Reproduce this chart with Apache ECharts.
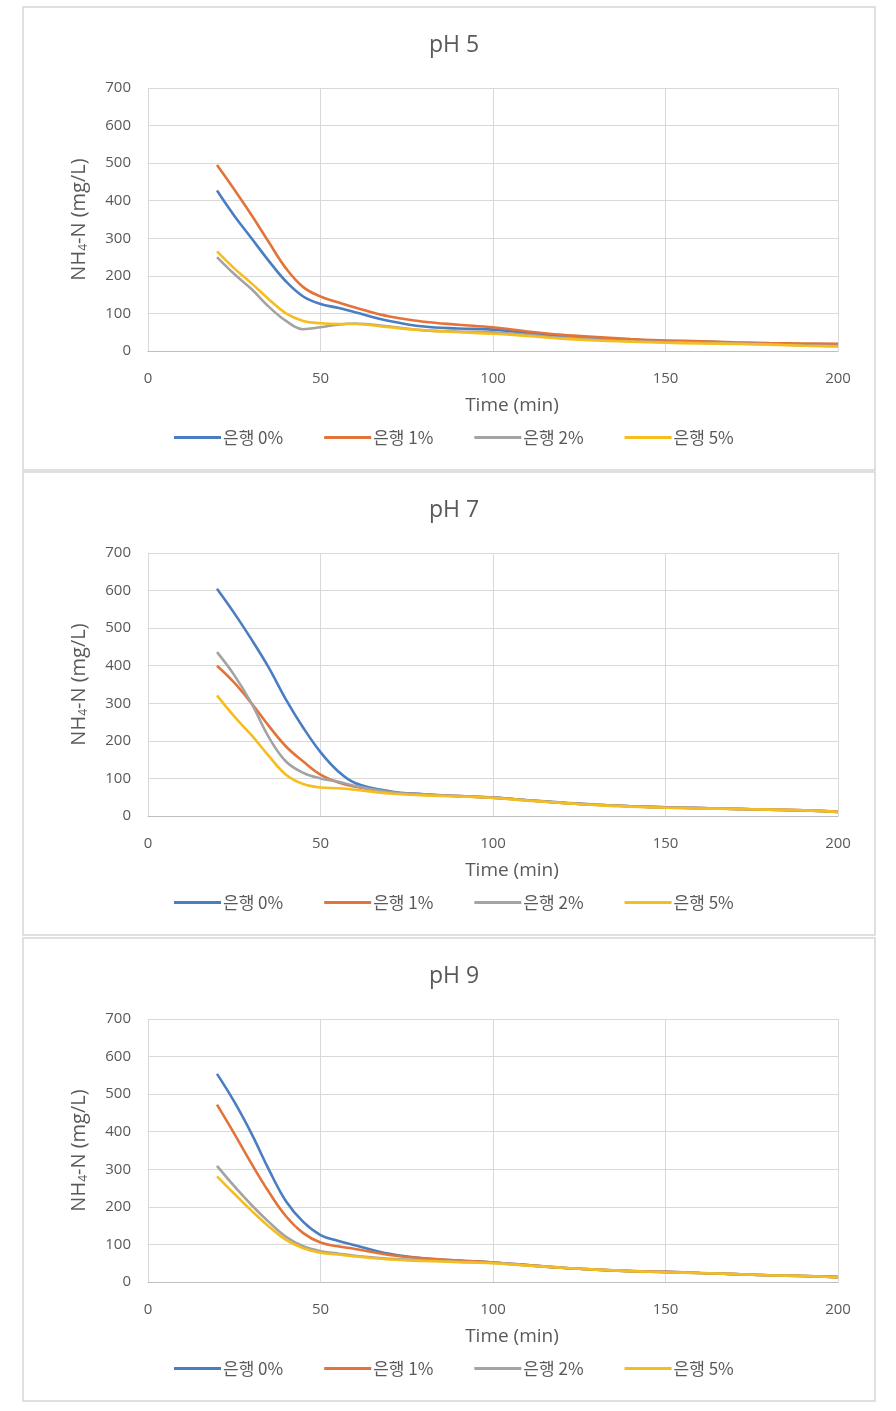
<!DOCTYPE html>
<html>
<head>
<meta charset="utf-8">
<script src="https://cdn.jsdelivr.net/npm/echarts@6/dist/echarts.min.js"></script>
<style>
html,body{margin:0;padding:0;background:#fff;}
#c{width:896px;height:1411px;}
</style>
</head>
<body>
<div id="c"></div>
<script>
// ---- data ----
const time = [20,25,30,35,40,45,50,55,60,70,80,90,100,110,120,130,140,150,160,170,180,190,200];
const seriesNames = ['은행 0%','은행 1%','은행 2%','은행 5%'];
const panelTitles = ['pH 5','pH 7','pH 9'];
const xTicks = [0,50,100,150,200];
const yTicks = [0,100,200,300,400,500,600,700];

const pH5_0 = [427,360,300,240,185,145,125,115,103,80,65,60,57,48,40,35,30,27,25,22,20,18,17];
const pH5_1 = [495,430,362,290,220,170,145,130,116,92,78,70,63,52,43,37,32,28,26,23,21,20,19];
const pH5_2 = [250,205,165,118,80,58,63,70,73,65,55,52,50,43,35,30,26,24,22,20,18,15,13];
const pH5_5 = [265,220,180,138,100,80,74,72,72,63,55,50,46,40,33,28,25,22,20,19,17,14,12];

const pH7_0 = [605,540,470,395,310,235,170,120,88,66,58,53,49,42,36,30,26,23,21,19,17,15,12];
const pH7_1 = [400,355,300,240,185,145,110,90,78,63,57,53,49,42,35,30,26,23,21,19,17,15,11];
const pH7_2 = [436,375,300,210,145,115,100,92,80,64,57,53,49,42,35,30,26,23,21,19,17,15,11];
const pH7_5 = [321,265,215,160,110,85,76,74,70,60,55,52,48,41,35,29,25,22,20,19,17,15,11];

const pH9_0 = [554,480,395,300,215,160,125,110,98,75,63,57,52,45,38,33,29,27,24,21,18,16,13];
const pH9_1 = [472,395,315,240,175,130,105,95,88,72,63,57,52,45,38,33,29,27,24,21,18,16,13];
const pH9_2 = [309,255,205,160,120,95,82,76,70,62,58,54,51,44,38,33,29,26,24,21,18,16,13];
const pH9_5 = [281,235,190,148,112,90,78,73,68,60,56,53,50,44,38,33,29,26,24,21,18,16,12];

const panelData = [
  [pH5_0,pH5_1,pH5_2,pH5_5],
  [pH7_0,pH7_1,pH7_2,pH7_5],
  [pH9_0,pH9_1,pH9_2,pH9_5]
];

// ---- styling / layout ----
const colors = ['#4A7EC2','#E2743A','#A3A3A3','#F5BE1E'];
const txt = '#595959';
const font = '"Open Sans","Liberation Sans",Arial,sans-serif';
const kfont = '"Noto Sans CJK KR","Open Sans",sans-serif';
const offsets = [0,465,931];

const chart = echarts.init(document.getElementById('c'));
const option = {
  backgroundColor:'#fff',
  animation:false,
  title:[], legend:[], grid:[], xAxis:[], yAxis:[], series:[],
  graphic:[]
};

offsets.forEach((off,p)=>{
  option.graphic.push({
    type:'rect', shape:{x:23,y:7+off,width:852,height:463},
    style:{fill:'none',stroke:'#d6d6d6',lineWidth:1.5}, z:-1
  });
  option.title.push({
    text:panelTitles[p], left:449, top:29+off, textAlign:'center',
    textStyle:{fontFamily:font,fontSize:23,fontWeight:'normal',color:txt}
  });
  option.grid.push({left:148, top:88+off, width:690, height:263});
  option.xAxis.push({
    type:'value', gridIndex:p, min:0, max:200, interval:50,
    name:'Time (min)', nameLocation:'middle', nameGap:45,
    nameTextStyle:{fontFamily:font,fontSize:19,color:txt,padding:[0,0,0,38]},
    axisLine:{show:true,lineStyle:{color:'#bfbfbf'}},
    axisTick:{show:false},
    axisLabel:{fontFamily:font,fontSize:15,color:txt,margin:20},
    splitLine:{show:true,lineStyle:{color:'#d9d9d9'}}
  });
  option.yAxis.push({
    type:'value', gridIndex:p, min:0, max:700, interval:100,
    name:'{a|NH}{s|4}{a|-N (mg/L)}', nameLocation:'middle', nameGap:58,
    nameTextStyle:{
      rich:{
        a:{fontFamily:font,fontSize:20,color:txt},
        s:{fontFamily:font,fontSize:12,color:txt,padding:[10,0,0,0]}
      }
    },
    axisLine:{show:false}, axisTick:{show:false},
    axisLabel:{fontFamily:font,fontSize:15,color:txt,margin:17},
    splitLine:{show:true,lineStyle:{color:'#d9d9d9'}}
  });
  option.legend.push({
    data:seriesNames, top:424+off, left:169,
    icon:'rect', itemWidth:47, itemHeight:3, itemGap:41,
    textStyle:{fontFamily:kfont,fontSize:17,color:txt,padding:[0,0,0,-3]}
  });
  seriesNames.forEach((nm,i)=>{
    option.series.push({
      type:'line', name:nm, xAxisIndex:p, yAxisIndex:p,
      data: time.map((t,k)=>[t,panelData[p][i][k]]),
      smooth:0.4, showSymbol:false, symbol:'none',
      lineStyle:{width:2.6,color:colors[i]}, itemStyle:{color:colors[i]}
    });
  });
});
chart.setOption(option);
</script>
</body>
</html>
